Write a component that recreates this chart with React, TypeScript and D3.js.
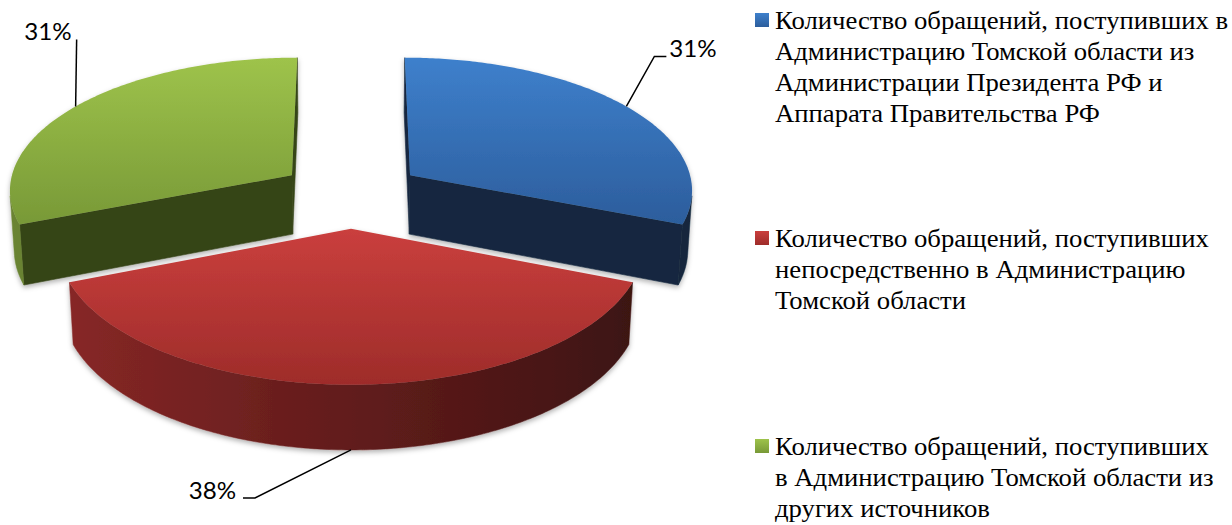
import React from 'react';
import * as d3 from 'd3';

// ---------- data ----------
const categories = [
  'Количество обращений, поступивших в Администрацию Томской области из Администрации Президента РФ и Аппарата Правительства РФ',
  'Количество обращений, поступивших непосредственно в Администрацию Томской области',
  'Количество обращений, поступивших в Администрацию Томской области из других источников',
];
const legendLines = [
  ['Количество обращений, поступивших в', 'Администрацию Томской области из', 'Администрации Президента РФ и', 'Аппарата Правительства РФ'],
  ['Количество обращений, поступивших', 'непосредственно в Администрацию', 'Томской области'],
  ['Количество обращений, поступивших', 'в Администрацию Томской области из', 'других источников'],
];
const values = [31, 38, 31];
const valueLabels = ['31%', '38%', '31%'];

// ---------- style ----------
const topLight = ['#3E80CC', '#CA3F3D', '#9EC34B'];
const topDark = ['#2C5D9C', '#9E2C2A', '#789937'];
const baseColors = ['#3A75BC', '#B83634', '#8FB244'];
const radialColors = ['#15283F', '#5A1A19', '#364417'];

// ---------- projection (perspective view of tilted pie) ----------
const CAM_D = 8.84;
const SIN_E = 0.468;
const COS_E = 0.884;
const FOCAL = 284;
const CX = 351;
const CY = 194;
const THICK = 0.24;
const EXPLODE = 0.255;
const camera: [number, number, number] = [0, -CAM_D * COS_E, CAM_D * SIN_E];

type P2 = [number, number];
type P3 = [number, number, number];

function project(u: number, v: number, h: number): P2 {
  const z = 1 + (v * COS_E - h * SIN_E) / CAM_D;
  return [CX + (FOCAL * u) / z, CY - (FOCAL * (v * SIN_E + h * COS_E)) / z];
}
function visible(n: P3, p: P3) {
  return n[0] * (camera[0] - p[0]) + n[1] * (camera[1] - p[1]) + n[2] * (camera[2] - p[2]) > 0;
}
const poly = (pts: P2[]) => 'M' + pts.map((p) => p[0].toFixed(2) + ',' + p[1].toFixed(2)).join('L') + 'Z';
const shade = (c: string, f: number) => d3.interpolateRgb('#000000', c)(f);

export default function App() {
  const arcs = d3.pie<number>().sort(null).value((d) => d)(values);

  const slices = arcs.map((a, i) => {
    const mid = (a.startAngle + a.endAngle) / 2;
    const ou = EXPLODE * Math.sin(mid);
    const ov = EXPLODE * Math.cos(mid);
    const rim = (t: number, h: number) => project(ou + Math.sin(t), ov + Math.cos(t), h);
    const apex = (h: number) => project(ou, ov, h);
    const N = 160;
    const ts = d3.range(N + 1).map((k) => a.startAngle + ((a.endAngle - a.startAngle) * k) / N);
    const top: P2[] = [apex(0), ...ts.map((t) => rim(t, 0))];

    const radial: string[] = [];
    ([[a.startAngle, -1], [a.endAngle, 1]] as [number, number][]).forEach(([t, sg]) => {
      const na = t + (sg * Math.PI) / 2;
      const n: P3 = [Math.sin(na), Math.cos(na), 0];
      const p: P3 = [ou + 0.5 * Math.sin(t), ov + 0.5 * Math.cos(t), -THICK / 2];
      if (visible(n, p)) radial.push(poly([apex(0), rim(t, 0), rim(t, -THICK), apex(-THICK)]));
    });

    const vis = ts.filter((t) =>
      visible([Math.sin(t), Math.cos(t), 0], [ou + Math.sin(t), ov + Math.cos(t), -THICK / 2])
    );
    let curved: string | null = null;
    let curvedStops: { off: number; col: string }[] = [];
    let cx1 = 0;
    let cx2 = 1;
    if (vis.length > 1) {
      const upper = vis.map((t) => rim(t, 0));
      const lower = vis.map((t) => rim(t, -THICK)).reverse();
      curved = poly([...upper, ...lower]);
      const xs = upper.map((p) => p[0]);
      cx1 = d3.min(xs)!;
      cx2 = d3.max(xs)!;
      const span = Math.max(1, cx2 - cx1);
      curvedStops = vis
        .map((t, k) => ({ off: (xs[k] - cx1) / span, col: shade(baseColors[i], 0.53 - 0.22 * Math.sin(t)) }))
        .sort((p, q) => p.off - q.off);
      if (cx2 - cx1 < 1) cx2 = cx1 + 1;
    }
    const ys = top.map((p) => p[1]);
    let anchor: P2;
    if (Math.cos(mid) < -0.5) anchor = rim(mid, -THICK);
    else anchor = rim(mid, 0);
    return { i, ov, top, topY1: d3.min(ys)!, topY2: d3.max(ys)!, radial, curved, curvedStops, cx1, cx2, anchor, mid };
  });

  const order = [...slices].sort((p, q) => q.ov - p.ov);

  const labelFont = 'Lato, "Open Sans", sans-serif';
  const legendFont = '"Liberation Serif", "Times New Roman", serif';
  const legendBase = [29, 247, 455];
  const legendX = 775;

  return (
    <svg width={1232} height={525} style={{ position: 'absolute', left: 0, top: 0, background: '#fff' }}>
      <defs>
        <filter id="sh" x="-10%" y="-10%" width="120%" height="130%">
          <feDropShadow dx="0" dy="2.5" stdDeviation="2.5" floodColor="#000" floodOpacity="0.3" />
        </filter>
        {slices.map((s) => (
          <linearGradient key={'t' + s.i} id={'top' + s.i} gradientUnits="userSpaceOnUse" x1={0} x2={0} y1={s.topY1} y2={s.topY2}>
            <stop offset="0" stopColor={topLight[s.i]} />
            <stop offset="1" stopColor={topDark[s.i]} />
          </linearGradient>
        ))}
        {slices.map((s) => (
          <linearGradient key={'c' + s.i} id={'cur' + s.i} gradientUnits="userSpaceOnUse" x1={s.cx1} x2={s.cx2} y1={0} y2={0}>
            {s.curvedStops.filter((_, k) => k % 8 === 0 || k === s.curvedStops.length - 1).map((st, k) => (
              <stop key={k} offset={st.off} stopColor={st.col} />
            ))}
          </linearGradient>
        ))}
        {categories.map((_, i) => (
          <linearGradient key={'m' + i} id={'mk' + i} x1="0" x2="0" y1="0" y2="1">
            <stop offset="0" stopColor={topLight[i]} />
            <stop offset="1" stopColor={topDark[i]} />
          </linearGradient>
        ))}
      </defs>

      {order.map((s) => (
        <g key={s.i} filter="url(#sh)">
          {s.radial.map((d, k) => (
            <path key={k} d={d} fill={radialColors[s.i]} stroke={radialColors[s.i]} strokeWidth={0.6} />
          ))}
          {s.curved && <path d={s.curved} fill={`url(#cur${s.i})`} stroke={`url(#cur${s.i})`} strokeWidth={0.5} />}
          <path d={poly(s.top)} fill={`url(#top${s.i})`} />
        </g>
      ))}

      {slices.map((s) => {
        const [ax, ay] = s.anchor;
        const sinM = Math.sin(s.mid);
        const cosM = Math.cos(s.mid);
        let pts: P2[];
        let tx: number;
        let ty: number;
        let anchorTxt: 'start' | 'end';
        if (cosM < -0.5) {
          const e: P2 = [ax - 96, ay + 48];
          pts = [[ax, ay], e, [e[0] - 12, e[1]]];
          tx = e[0] - 19;
          ty = e[1] + 1;
          anchorTxt = 'end';
        } else if (sinM > 0) {
          const e: P2 = [ax + 28, ay - 50];
          pts = [[ax, ay], e, [e[0] + 12, e[1]]];
          tx = e[0] + 15;
          ty = e[1] + 1;
          anchorTxt = 'start';
        } else {
          const e: P2 = [ax + 1, ay - 67];
          pts = [[ax, ay], e];
          tx = e[0] - 5;
          ty = e[1] + 1;
          anchorTxt = 'end';
        }
        return (
          <g key={'l' + s.i}>
            <polyline points={pts.map((p) => p.join(',')).join(' ')} fill="none" stroke="#000" strokeWidth={1.5} />
            <text
              transform={`translate(${tx},${ty}) scale(1.05,1)`}
              textAnchor={anchorTxt}
              fontFamily={labelFont}
              fontSize={23}
              fill="#000"
            >
              {valueLabels[s.i]}
            </text>
          </g>
        );
      })}

      {legendLines.map((lines, i) => (
        <g key={'lg' + i}>
          <rect x={755} y={legendBase[i] - 16} width={14} height={14} fill={`url(#mk${i})`} />
          <text transform={`translate(${legendX},0) scale(1.068,1)`} fontFamily={legendFont} fontSize={25} fill="#000">
            {lines.map((ln, k) => (
              <tspan key={k} x={0} y={legendBase[i] + k * 31}>
                {ln}
              </tspan>
            ))}
          </text>
        </g>
      ))}
    </svg>
  );
}
